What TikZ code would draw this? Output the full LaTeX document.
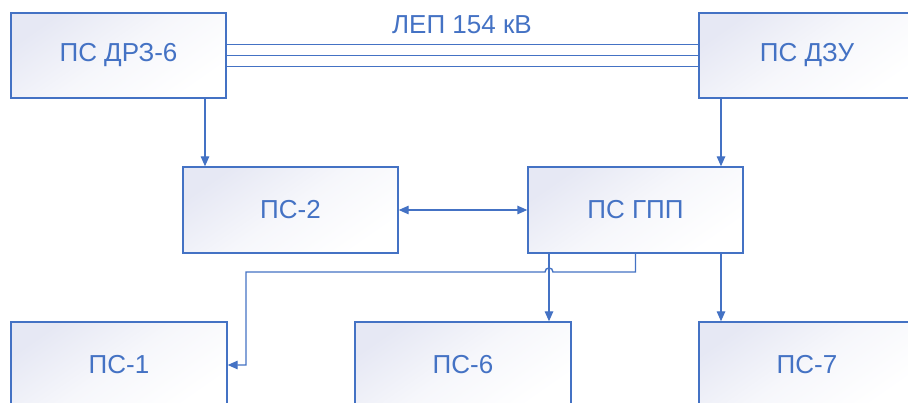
\documentclass[tikz,border=0pt]{standalone}
\usepackage{fontspec}
\setmainfont{Liberation Sans}
\usetikzlibrary{arrows.meta}
\definecolor{psblue}{HTML}{4472C4}
\definecolor{pslav}{HTML}{E6E8F4}
\tikzset{
  psbox/.style={draw=psblue, line width=1.4pt, minimum width=215pt, minimum height=85pt,
    inner sep=0pt, shading=axis, top color=pslav, bottom color=white, middle color=pslav!35!white,
    shading angle=35, text=psblue, font=\fontsize{26}{30}\selectfont},
  link/.style={draw=psblue, line width=1.4pt},
  tip/.style={Triangle[length=10pt,width=8.5pt]},
  arr/.style={link, -{Triangle[length=10pt,width=8.5pt]}},
  dblarr/.style={link, {Triangle[length=10pt,width=8.5pt]}-{Triangle[length=10pt,width=8.5pt]}},
  lbl/.style={text=psblue, font=\fontsize{26}{30}\selectfont, inner sep=0pt}
}
\begin{document}
\begin{tikzpicture}[x=1pt,y=-1pt]
  \useasboundingbox (0,0) rectangle (908,403);
  \clip (0,0) rectangle (908,403);
  \fill[white] (0,0) rectangle (908,403);

  % substations
  \node[psbox] (drz) at (118.5,55.5) {ПС ДРЗ-6};
  \node[psbox, minimum width=216pt] (dzu) at (807,55.5) {ПС ДЗУ};
  \node[psbox, minimum height=86pt] (ps2) at (290.5,210) {ПС-2};
  \node[psbox, minimum height=86pt] (gpp) at (635.5,210) {ПС ГПП};
  \node[psbox, minimum width=216pt, minimum height=86pt] (ps1) at (119,365) {ПС-1};
  \node[psbox, minimum width=216pt, minimum height=86pt] (ps6) at (463,365) {ПС-6};
  \node[psbox, minimum width=216pt, minimum height=86pt] (ps7) at (807,365) {ПС-7};

  % 154 kV line between the two main substations
  \node[lbl] (lep) at (462,25) {ЛЕП 154 кВ};
  \draw[link] ([yshift=11pt]drz.east) -- ([yshift=11pt]dzu.west);
  \draw[link] (drz.east) -- (dzu.west);
  \draw[link] ([yshift=-11pt]drz.east) -- ([yshift=-11pt]dzu.west);

  % column positions of the vertical feeders
  \coordinate (cA) at (205,0);
  \coordinate (cB) at (721,0);
  \coordinate (cC) at (549,0);
  \coordinate (cD) at (246,0);
  \coordinate (bend) at (635.5,272);

  \draw[arr] (cA |- drz.south) -- (cA |- ps2.north);
  \draw[arr] (cB |- dzu.south) -- (cB |- gpp.north);
  \draw[dblarr] (ps2.east) -- (gpp.west);
  \draw[arr] (cC |- gpp.south) -- (cC |- ps6.north);
  \draw[arr] (cB |- gpp.south) -- (cB |- ps7.north);

  % feeder to ПС-1 with a hop over the ПС-6 line
  \draw[arr] (gpp.south) -- (bend) -- (553,272)
    .. controls (553,266.7) and (545,266.7) .. (545,272)
    -- (cD |- bend) -- (cD |- ps1.east) -- (ps1.east);
\end{tikzpicture}
\end{document}
